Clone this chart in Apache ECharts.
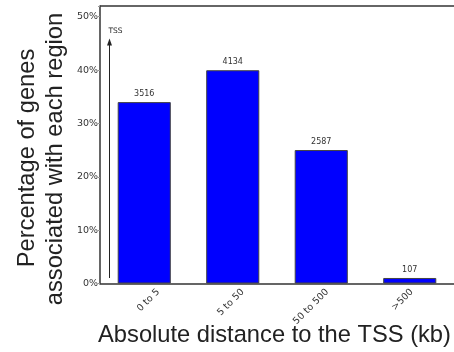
<!DOCTYPE html>
<html>
<head>
<meta charset="utf-8">
<script src="https://cdn.jsdelivr.net/npm/echarts@6/dist/echarts.min.js"></script>
<style>
  html, body { margin: 0; padding: 0; background: #fff; }
  #chart { width: 454px; height: 352px; }
</style>
</head>
<body>
<div id="chart"></div>
<script>
// Distance bins from the transcription start site
const categories = ['0 to 5', '5 to 50', '50 to 500', '>500'];
// Number of genes falling in each bin
const geneCounts = [3516, 4134, 2587, 107];
// Y-axis ticks (percent)
const yTicks = [0, 10, 20, 30, 40, 50];

const total = geneCounts.reduce((a, b) => a + b, 0);
const shares = geneCounts.map(c => c / total * 100);

const chart = echarts.init(document.getElementById('chart'), null, { renderer: 'canvas' });
const font = 'DejaVu Sans';
const plotBox = { top: 6, width: 358, height: 277.5 };

chart.setOption({
  animation: false,
  backgroundColor: '#ffffff',
  grid: [
    Object.assign({ left: 100 }, plotBox),
    // label-only copy of the category axis, nudged right so the rotated tick labels end past each bar centre
    Object.assign({ left: 116 }, plotBox)
  ],
  xAxis: [{
    type: 'category',
    gridIndex: 0,
    data: categories,
    axisLine: { lineStyle: { color: '#333', width: 1.5 } },
    axisTick: { show: false },
    axisLabel: { show: false }
  }, {
    type: 'category',
    gridIndex: 1,
    data: categories,
    axisLine: { show: false },
    axisTick: { show: false },
    axisLabel: { rotate: 45, fontFamily: font, fontSize: 9.5, color: '#333', margin: 7, interval: 0 }
  }],
  yAxis: [{
    type: 'value',
    gridIndex: 0,
    min: 0,
    max: 52,
    interval: 10,
    splitLine: { show: false },
    axisLine: { show: true, lineStyle: { color: '#333', width: 1.5 } },
    axisTick: { show: true, length: 2, lineStyle: { color: '#999' } },
    axisLabel: {
      fontFamily: font, fontSize: 9.5, color: '#333', margin: 2,
      formatter: v => (yTicks.indexOf(v) >= 0 ? v + '%' : '')
    }
  }, {
    type: 'value',
    gridIndex: 1,
    show: false
  }],
  series: [{
    type: 'bar',
    xAxisIndex: 0,
    yAxisIndex: 0,
    data: shares,
    barWidth: '60%',
    itemStyle: { color: '#0000ff', borderColor: '#444', borderWidth: 1 },
    label: {
      show: true,
      position: 'top',
      distance: 4,
      fontFamily: font,
      fontSize: 8,
      color: '#333',
      formatter: p => String(geneCounts[p.dataIndex])
    },
    markLine: {
      silent: true,
      symbol: ['none', 'triangle'],
      symbolSize: [5, 7],
      label: { show: false },
      lineStyle: { color: '#222', width: 1, type: 'solid' },
      data: [[{ x: 109.5, y: 278 }, { x: 109.5, y: 42 }]]
    }
  }],
  graphic: [
    // top frame line
    { type: 'line', shape: { x1: 100, y1: 6, x2: 454, y2: 6 }, style: { stroke: '#333', lineWidth: 1.5 } },
    { type: 'text', x: 108.5, y: 31.5, style: { text: 'TSS', font: '7.5px "DejaVu Sans"', fill: '#222', verticalAlign: 'middle' } },
    {
      type: 'text', x: 27, y: 158, rotation: Math.PI / 2,
      style: { text: 'Percentage of genes', font: '23.7px "Liberation Sans"', fill: '#222', align: 'center', verticalAlign: 'middle' }
    },
    {
      type: 'text', x: 55, y: 159, rotation: Math.PI / 2,
      style: { text: 'associated with each region', font: '23.7px "Liberation Sans"', fill: '#222', align: 'center', verticalAlign: 'middle' }
    },
    {
      type: 'text', x: 274.5, y: 335,
      style: { text: 'Absolute distance to the TSS (kb)', font: '23.7px "Liberation Sans"', fill: '#222', align: 'center', verticalAlign: 'middle' }
    }
  ]
});
</script>
</body>
</html>
